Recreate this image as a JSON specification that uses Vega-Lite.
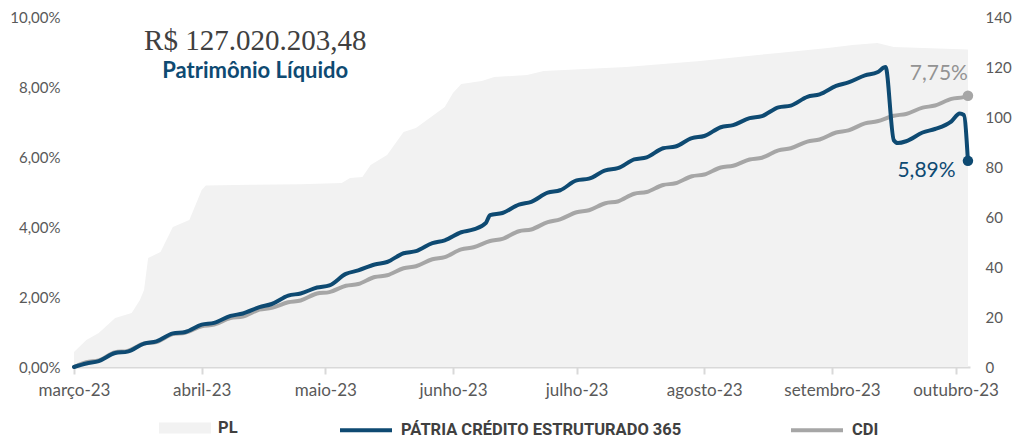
{
  "$schema": "https://vega.github.io/schema/vega-lite/v6.json",
  "width": 896,
  "height": 350,
  "autosize": {"type": "none"},
  "padding": {"left": 74, "top": 17, "right": 42, "bottom": 72},
  "background": "white",
  "config": {
    "view": {"stroke": null},
    "font": "Lato",
    "axis": {"grid": false, "labelFont": "Lato", "labelColor": "#595959", "labelFontSize": 15},
    "legend": {"labelFont": "Roboto", "labelFontWeight": "bold", "labelFontSize": 16.5, "labelColor": "#404040", "labelLimit": 400, "padding": 0, "title": null}
  },
  "datasets": {
    "pl": [
      {"d": "2023-03-01", "pl": 6.0},
      {"d": "2023-03-04", "pl": 10.8},
      {"d": "2023-03-07", "pl": 13.6},
      {"d": "2023-03-11", "pl": 19.6},
      {"d": "2023-03-15", "pl": 21.6},
      {"d": "2023-03-17", "pl": 26.8},
      {"d": "2023-03-18", "pl": 30.8},
      {"d": "2023-03-19", "pl": 43.6},
      {"d": "2023-03-22", "pl": 46.0},
      {"d": "2023-03-25", "pl": 56.0},
      {"d": "2023-03-29", "pl": 58.8},
      {"d": "2023-04-01", "pl": 70.8},
      {"d": "2023-04-02", "pl": 72.6},
      {"d": "2023-04-13", "pl": 72.9},
      {"d": "2023-04-25", "pl": 73.1},
      {"d": "2023-05-05", "pl": 73.6},
      {"d": "2023-05-07", "pl": 75.6},
      {"d": "2023-05-10", "pl": 76.0},
      {"d": "2023-05-12", "pl": 80.8},
      {"d": "2023-05-14", "pl": 82.8},
      {"d": "2023-05-16", "pl": 84.8},
      {"d": "2023-05-20", "pl": 94.0},
      {"d": "2023-05-23", "pl": 95.6},
      {"d": "2023-05-28", "pl": 101.6},
      {"d": "2023-05-30", "pl": 104.0},
      {"d": "2023-06-01", "pl": 109.6},
      {"d": "2023-06-03", "pl": 113.2},
      {"d": "2023-06-08", "pl": 114.4},
      {"d": "2023-06-11", "pl": 116.0},
      {"d": "2023-06-19", "pl": 116.8},
      {"d": "2023-06-23", "pl": 118.4},
      {"d": "2023-07-13", "pl": 120.0},
      {"d": "2023-07-31", "pl": 122.4},
      {"d": "2023-08-14", "pl": 124.8},
      {"d": "2023-08-19", "pl": 125.6},
      {"d": "2023-08-31", "pl": 127.6},
      {"d": "2023-09-06", "pl": 128.8},
      {"d": "2023-09-12", "pl": 129.6},
      {"d": "2023-09-13", "pl": 129.2},
      {"d": "2023-09-16", "pl": 128.0},
      {"d": "2023-10-04", "pl": 127.02}
    ],
    "lines": [
      {"d": "2023-03-01", "s": "CDI", "v": 0.00},
      {"d": "2023-03-04", "s": "CDI", "v": 0.14},
      {"d": "2023-03-07", "s": "CDI", "v": 0.19},
      {"d": "2023-03-11", "s": "CDI", "v": 0.42},
      {"d": "2023-03-14", "s": "CDI", "v": 0.46},
      {"d": "2023-03-18", "s": "CDI", "v": 0.67},
      {"d": "2023-03-21", "s": "CDI", "v": 0.71},
      {"d": "2023-03-25", "s": "CDI", "v": 0.94},
      {"d": "2023-03-28", "s": "CDI", "v": 0.98},
      {"d": "2023-04-01", "s": "CDI", "v": 1.16},
      {"d": "2023-04-04", "s": "CDI", "v": 1.21},
      {"d": "2023-04-08", "s": "CDI", "v": 1.40},
      {"d": "2023-04-11", "s": "CDI", "v": 1.44},
      {"d": "2023-04-15", "s": "CDI", "v": 1.64},
      {"d": "2023-04-18", "s": "CDI", "v": 1.69},
      {"d": "2023-04-22", "s": "CDI", "v": 1.85},
      {"d": "2023-04-25", "s": "CDI", "v": 1.90},
      {"d": "2023-04-29", "s": "CDI", "v": 2.10},
      {"d": "2023-05-02", "s": "CDI", "v": 2.14},
      {"d": "2023-05-06", "s": "CDI", "v": 2.32},
      {"d": "2023-05-09", "s": "CDI", "v": 2.37},
      {"d": "2023-05-13", "s": "CDI", "v": 2.57},
      {"d": "2023-05-16", "s": "CDI", "v": 2.62},
      {"d": "2023-05-20", "s": "CDI", "v": 2.82},
      {"d": "2023-05-23", "s": "CDI", "v": 2.88},
      {"d": "2023-05-27", "s": "CDI", "v": 3.08},
      {"d": "2023-05-30", "s": "CDI", "v": 3.14},
      {"d": "2023-06-03", "s": "CDI", "v": 3.36},
      {"d": "2023-06-06", "s": "CDI", "v": 3.42},
      {"d": "2023-06-10", "s": "CDI", "v": 3.60},
      {"d": "2023-06-13", "s": "CDI", "v": 3.66},
      {"d": "2023-06-17", "s": "CDI", "v": 3.88},
      {"d": "2023-06-20", "s": "CDI", "v": 3.93},
      {"d": "2023-06-24", "s": "CDI", "v": 4.14},
      {"d": "2023-06-27", "s": "CDI", "v": 4.22},
      {"d": "2023-07-01", "s": "CDI", "v": 4.42},
      {"d": "2023-07-04", "s": "CDI", "v": 4.48},
      {"d": "2023-07-08", "s": "CDI", "v": 4.68},
      {"d": "2023-07-11", "s": "CDI", "v": 4.73},
      {"d": "2023-07-15", "s": "CDI", "v": 4.95},
      {"d": "2023-07-18", "s": "CDI", "v": 5.00},
      {"d": "2023-07-22", "s": "CDI", "v": 5.20},
      {"d": "2023-07-25", "s": "CDI", "v": 5.25},
      {"d": "2023-07-29", "s": "CDI", "v": 5.45},
      {"d": "2023-08-01", "s": "CDI", "v": 5.50},
      {"d": "2023-08-05", "s": "CDI", "v": 5.70},
      {"d": "2023-08-08", "s": "CDI", "v": 5.75},
      {"d": "2023-08-12", "s": "CDI", "v": 5.93},
      {"d": "2023-08-15", "s": "CDI", "v": 5.98},
      {"d": "2023-08-19", "s": "CDI", "v": 6.19},
      {"d": "2023-08-22", "s": "CDI", "v": 6.25},
      {"d": "2023-08-26", "s": "CDI", "v": 6.44},
      {"d": "2023-08-29", "s": "CDI", "v": 6.50},
      {"d": "2023-09-02", "s": "CDI", "v": 6.70},
      {"d": "2023-09-05", "s": "CDI", "v": 6.76},
      {"d": "2023-09-09", "s": "CDI", "v": 6.96},
      {"d": "2023-09-12", "s": "CDI", "v": 7.02},
      {"d": "2023-09-16", "s": "CDI", "v": 7.18},
      {"d": "2023-09-19", "s": "CDI", "v": 7.23},
      {"d": "2023-09-23", "s": "CDI", "v": 7.41},
      {"d": "2023-09-26", "s": "CDI", "v": 7.47},
      {"d": "2023-09-30", "s": "CDI", "v": 7.66},
      {"d": "2023-10-03", "s": "CDI", "v": 7.71},
      {"d": "2023-10-04", "s": "CDI", "v": 7.75},
      {"d": "2023-03-01", "s": "PÁTRIA CRÉDITO ESTRUTURADO 365", "v": 0.00},
      {"d": "2023-03-04", "s": "PÁTRIA CRÉDITO ESTRUTURADO 365", "v": 0.10},
      {"d": "2023-03-07", "s": "PÁTRIA CRÉDITO ESTRUTURADO 365", "v": 0.17},
      {"d": "2023-03-11", "s": "PÁTRIA CRÉDITO ESTRUTURADO 365", "v": 0.40},
      {"d": "2023-03-14", "s": "PÁTRIA CRÉDITO ESTRUTURADO 365", "v": 0.44},
      {"d": "2023-03-18", "s": "PÁTRIA CRÉDITO ESTRUTURADO 365", "v": 0.67},
      {"d": "2023-03-21", "s": "PÁTRIA CRÉDITO ESTRUTURADO 365", "v": 0.73},
      {"d": "2023-03-25", "s": "PÁTRIA CRÉDITO ESTRUTURADO 365", "v": 0.96},
      {"d": "2023-03-28", "s": "PÁTRIA CRÉDITO ESTRUTURADO 365", "v": 1.00},
      {"d": "2023-04-01", "s": "PÁTRIA CRÉDITO ESTRUTURADO 365", "v": 1.21},
      {"d": "2023-04-04", "s": "PÁTRIA CRÉDITO ESTRUTURADO 365", "v": 1.26},
      {"d": "2023-04-08", "s": "PÁTRIA CRÉDITO ESTRUTURADO 365", "v": 1.46},
      {"d": "2023-04-11", "s": "PÁTRIA CRÉDITO ESTRUTURADO 365", "v": 1.53},
      {"d": "2023-04-15", "s": "PÁTRIA CRÉDITO ESTRUTURADO 365", "v": 1.71},
      {"d": "2023-04-18", "s": "PÁTRIA CRÉDITO ESTRUTURADO 365", "v": 1.80},
      {"d": "2023-04-22", "s": "PÁTRIA CRÉDITO ESTRUTURADO 365", "v": 2.04},
      {"d": "2023-04-25", "s": "PÁTRIA CRÉDITO ESTRUTURADO 365", "v": 2.10},
      {"d": "2023-04-29", "s": "PÁTRIA CRÉDITO ESTRUTURADO 365", "v": 2.27},
      {"d": "2023-05-02", "s": "PÁTRIA CRÉDITO ESTRUTURADO 365", "v": 2.33},
      {"d": "2023-05-06", "s": "PÁTRIA CRÉDITO ESTRUTURADO 365", "v": 2.66},
      {"d": "2023-05-09", "s": "PÁTRIA CRÉDITO ESTRUTURADO 365", "v": 2.76},
      {"d": "2023-05-13", "s": "PÁTRIA CRÉDITO ESTRUTURADO 365", "v": 2.93},
      {"d": "2023-05-16", "s": "PÁTRIA CRÉDITO ESTRUTURADO 365", "v": 3.00},
      {"d": "2023-05-20", "s": "PÁTRIA CRÉDITO ESTRUTURADO 365", "v": 3.25},
      {"d": "2023-05-23", "s": "PÁTRIA CRÉDITO ESTRUTURADO 365", "v": 3.31},
      {"d": "2023-05-27", "s": "PÁTRIA CRÉDITO ESTRUTURADO 365", "v": 3.54},
      {"d": "2023-05-30", "s": "PÁTRIA CRÉDITO ESTRUTURADO 365", "v": 3.62},
      {"d": "2023-06-03", "s": "PÁTRIA CRÉDITO ESTRUTURADO 365", "v": 3.85},
      {"d": "2023-06-06", "s": "PÁTRIA CRÉDITO ESTRUTURADO 365", "v": 3.93},
      {"d": "2023-06-09", "s": "PÁTRIA CRÉDITO ESTRUTURADO 365", "v": 4.12},
      {"d": "2023-06-10", "s": "PÁTRIA CRÉDITO ESTRUTURADO 365", "v": 4.34},
      {"d": "2023-06-13", "s": "PÁTRIA CRÉDITO ESTRUTURADO 365", "v": 4.40},
      {"d": "2023-06-17", "s": "PÁTRIA CRÉDITO ESTRUTURADO 365", "v": 4.64},
      {"d": "2023-06-20", "s": "PÁTRIA CRÉDITO ESTRUTURADO 365", "v": 4.72},
      {"d": "2023-06-24", "s": "PÁTRIA CRÉDITO ESTRUTURADO 365", "v": 4.98},
      {"d": "2023-06-27", "s": "PÁTRIA CRÉDITO ESTRUTURADO 365", "v": 5.05},
      {"d": "2023-07-01", "s": "PÁTRIA CRÉDITO ESTRUTURADO 365", "v": 5.33},
      {"d": "2023-07-04", "s": "PÁTRIA CRÉDITO ESTRUTURADO 365", "v": 5.38},
      {"d": "2023-07-08", "s": "PÁTRIA CRÉDITO ESTRUTURADO 365", "v": 5.62},
      {"d": "2023-07-11", "s": "PÁTRIA CRÉDITO ESTRUTURADO 365", "v": 5.68},
      {"d": "2023-07-15", "s": "PÁTRIA CRÉDITO ESTRUTURADO 365", "v": 5.93},
      {"d": "2023-07-18", "s": "PÁTRIA CRÉDITO ESTRUTURADO 365", "v": 5.99},
      {"d": "2023-07-22", "s": "PÁTRIA CRÉDITO ESTRUTURADO 365", "v": 6.25},
      {"d": "2023-07-25", "s": "PÁTRIA CRÉDITO ESTRUTURADO 365", "v": 6.30},
      {"d": "2023-07-29", "s": "PÁTRIA CRÉDITO ESTRUTURADO 365", "v": 6.54},
      {"d": "2023-08-01", "s": "PÁTRIA CRÉDITO ESTRUTURADO 365", "v": 6.60},
      {"d": "2023-08-05", "s": "PÁTRIA CRÉDITO ESTRUTURADO 365", "v": 6.85},
      {"d": "2023-08-08", "s": "PÁTRIA CRÉDITO ESTRUTURADO 365", "v": 6.91},
      {"d": "2023-08-12", "s": "PÁTRIA CRÉDITO ESTRUTURADO 365", "v": 7.11},
      {"d": "2023-08-15", "s": "PÁTRIA CRÉDITO ESTRUTURADO 365", "v": 7.17},
      {"d": "2023-08-19", "s": "PÁTRIA CRÉDITO ESTRUTURADO 365", "v": 7.42},
      {"d": "2023-08-22", "s": "PÁTRIA CRÉDITO ESTRUTURADO 365", "v": 7.47},
      {"d": "2023-08-26", "s": "PÁTRIA CRÉDITO ESTRUTURADO 365", "v": 7.72},
      {"d": "2023-08-29", "s": "PÁTRIA CRÉDITO ESTRUTURADO 365", "v": 7.79},
      {"d": "2023-09-02", "s": "PÁTRIA CRÉDITO ESTRUTURADO 365", "v": 8.03},
      {"d": "2023-09-05", "s": "PÁTRIA CRÉDITO ESTRUTURADO 365", "v": 8.13},
      {"d": "2023-09-09", "s": "PÁTRIA CRÉDITO ESTRUTURADO 365", "v": 8.33},
      {"d": "2023-09-12", "s": "PÁTRIA CRÉDITO ESTRUTURADO 365", "v": 8.42},
      {"d": "2023-09-14", "s": "PÁTRIA CRÉDITO ESTRUTURADO 365", "v": 8.57},
      {"d": "2023-09-16", "s": "PÁTRIA CRÉDITO ESTRUTURADO 365", "v": 6.48},
      {"d": "2023-09-17", "s": "PÁTRIA CRÉDITO ESTRUTURADO 365", "v": 6.40},
      {"d": "2023-09-19", "s": "PÁTRIA CRÉDITO ESTRUTURADO 365", "v": 6.45},
      {"d": "2023-09-23", "s": "PÁTRIA CRÉDITO ESTRUTURADO 365", "v": 6.70},
      {"d": "2023-09-26", "s": "PÁTRIA CRÉDITO ESTRUTURADO 365", "v": 6.80},
      {"d": "2023-09-30", "s": "PÁTRIA CRÉDITO ESTRUTURADO 365", "v": 7.02},
      {"d": "2023-10-02", "s": "PÁTRIA CRÉDITO ESTRUTURADO 365", "v": 7.24},
      {"d": "2023-10-03", "s": "PÁTRIA CRÉDITO ESTRUTURADO 365", "v": 7.20},
      {"d": "2023-10-04", "s": "PÁTRIA CRÉDITO ESTRUTURADO 365", "v": 5.89}
    ],
    "ends": [
      {"d": "2023-10-04", "s": "CDI", "v": 7.75},
      {"d": "2023-10-04", "s": "PÁTRIA CRÉDITO ESTRUTURADO 365", "v": 5.89}
    ]
  },
  "layer": [
    {
      "data": {"name": "pl"},
      "mark": {"type": "area", "opacity": 1, "interpolate": "linear"},
      "encoding": {
        "x": {
          "field": "d", "type": "temporal",
          "scale": {"type": "utc", "domain": [{"year": 2023, "month": 3, "date": 1, "utc": true}, {"year": 2023, "month": 10, "date": 4, "hours": 12, "utc": true}]},
          "axis": {
            "title": null,
            "tickCount": {"interval": "month", "step": 1},
            "labelExpr": "['janeiro','fevereiro','março','abril','maio','junho','julho','agosto','setembro','outubro','novembro','dezembro'][utcmonth(datum.value)] + '-' + utcFormat(datum.value, '%y')",
            "labelFlush": false, "labelOverlap": false,
            "domainColor": "#d9d9d9", "domainWidth": 2,
            "tickColor": "#d9d9d9", "tickWidth": 2, "tickSize": 7,
            "labelPadding": 8, "labelFontSize": 17
          }
        },
        "y": {
          "field": "pl", "type": "quantitative",
          "scale": {"domain": [0, 140], "nice": false},
          "axis": {"title": null, "orient": "right", "values": [0, 20, 40, 60, 80, 100, 120, 140], "domain": false, "ticks": false, "labelPadding": 15}
        },
        "fill": {
          "datum": "PL", "type": "nominal",
          "scale": {"domain": ["PL"], "range": ["#f2f2f2"]},
          "legend": {
            "orient": "none", "legendX": 85, "legendY": 385,
            "symbolType": "M-1,-0.21H1V0.21H-1Z", "symbolSize": 2704, "symbolStrokeWidth": 0,
            "symbolFillColor": "#f2f2f2", "symbolOpacity": 1, "labelOffset": 7
          }
        }
      }
    },
    {
      "layer": [
        {
          "data": {"name": "lines"},
          "mark": {"type": "line", "strokeWidth": 4, "interpolate": "monotone", "strokeJoin": "round", "strokeCap": "round"},
          "encoding": {
            "x": {"field": "d", "type": "temporal", "axis": {"title": null, "tickCount": {"interval": "month", "step": 1}, "labelExpr": "['janeiro','fevereiro','março','abril','maio','junho','julho','agosto','setembro','outubro','novembro','dezembro'][utcmonth(datum.value)] + '-' + utcFormat(datum.value, '%y')", "labelFlush": false, "labelOverlap": false, "domainColor": "#d9d9d9", "domainWidth": 2, "tickColor": "#d9d9d9", "tickWidth": 2, "tickSize": 7, "labelPadding": 8, "labelFontSize": 17}},
            "y": {
              "field": "v", "type": "quantitative",
              "scale": {"domain": [0, 10], "nice": false},
              "axis": {"title": null, "orient": "left", "values": [0, 2, 4, 6, 8, 10], "labelExpr": "replace(format(datum.value, '.2f'), '.', ',') + '%'", "domain": false, "ticks": false, "labelPadding": 14}
            },
            "color": {
              "field": "s", "type": "nominal",
              "scale": {"domain": ["PÁTRIA CRÉDITO ESTRUTURADO 365", "CDI"], "range": ["#0e4a72", "#a6a6a6"]},
              "legend": {
                "orient": "none", "legendX": 264, "legendY": 385, "direction": "horizontal",
                "symbolType": "stroke", "symbolSize": 2704, "symbolStrokeWidth": 4,
                "columnPadding": 101, "labelOffset": 7
              }
            }
          }
        },
        {
          "data": {"name": "ends"},
          "mark": {"type": "circle", "size": 110, "opacity": 1},
          "encoding": {
            "x": {"field": "d", "type": "temporal"},
            "y": {"field": "v", "type": "quantitative", "scale": {"domain": [0, 10], "nice": false}},
            "color": {"field": "s", "type": "nominal", "legend": null}
          }
        },
        {
          "data": {"values": [{"d": "2023-04-14", "v": 9.06, "t": "R$ 127.020.203,48"}]},
          "mark": {"type": "text", "font": "Liberation Serif", "fontSize": 29, "color": "#404040", "align": "center", "baseline": "alphabetic"},
          "encoding": {
            "x": {"field": "d", "type": "temporal"},
            "y": {"field": "v", "type": "quantitative", "scale": {"domain": [0, 10], "nice": false}},
            "text": {"field": "t"}
          }
        },
        {
          "data": {"values": [{"d": "2023-04-14", "v": 8.27, "t": "Patrimônio Líquido"}]},
          "mark": {"type": "text", "font": "Lato", "fontWeight": "bold", "fontSize": 22, "color": "#0e4a72", "align": "center", "baseline": "alphabetic"},
          "encoding": {
            "x": {"field": "d", "type": "temporal"},
            "y": {"field": "v", "type": "quantitative", "scale": {"domain": [0, 10], "nice": false}},
            "text": {"field": "t"}
          }
        },
        {
          "data": {"values": [{"d": "2023-10-04", "v": 8.2, "t": "7,75%"}]},
          "mark": {"type": "text", "font": "Lato", "fontSize": 21, "color": "#939393", "align": "right", "baseline": "alphabetic"},
          "encoding": {
            "x": {"field": "d", "type": "temporal"},
            "y": {"field": "v", "type": "quantitative", "scale": {"domain": [0, 10], "nice": false}},
            "text": {"field": "t"}
          }
        },
        {
          "data": {"values": [{"d": "2023-10-01", "v": 5.43, "t": "5,89%"}]},
          "mark": {"type": "text", "font": "Lato", "fontSize": 21, "color": "#0e4a72", "align": "right", "baseline": "alphabetic"},
          "encoding": {
            "x": {"field": "d", "type": "temporal"},
            "y": {"field": "v", "type": "quantitative", "scale": {"domain": [0, 10], "nice": false}},
            "text": {"field": "t"}
          }
        }
      ]
    }
  ],
  "resolve": {"scale": {"y": "independent"}}
}
